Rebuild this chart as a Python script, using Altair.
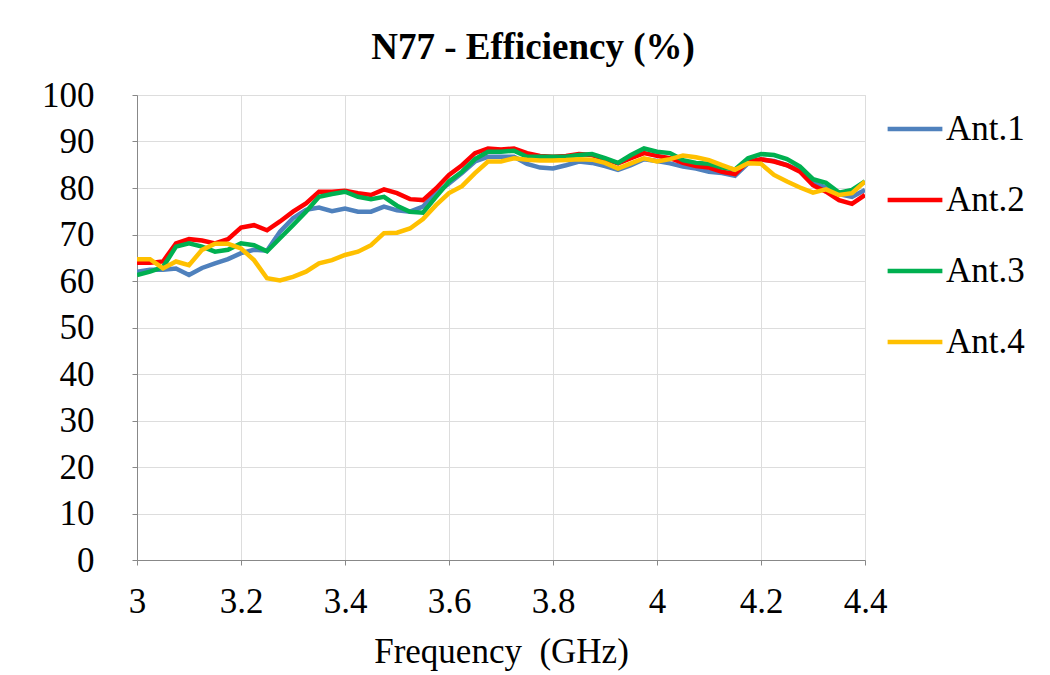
import altair as alt
import pandas as pd

freq = [round(3.0 + 0.025 * i, 3) for i in range(57)]

ant1 = [62.0, 62.4, 62.4, 62.7, 61.3, 62.8, 63.8, 64.7, 66.0, 66.7, 66.5, 70.6, 73.5, 75.3, 75.8,
        75.0, 75.6, 74.9, 74.9, 76.0, 75.2, 74.9, 76.0, 78.9, 81.0, 83.2, 85.7, 86.7, 86.7, 86.7,
        85.2, 84.4, 84.2, 84.9, 85.7, 85.4, 84.7, 83.9, 84.9, 86.2, 85.8, 85.3, 84.6, 84.2, 83.5,
        83.2, 82.6, 85.3, 86.1, 85.8, 84.9, 83.8, 81.1, 80.1, 78.7, 78.1, 79.6]
ant2 = [63.9, 63.9, 64.2, 68.1, 69.0, 68.7, 68.1, 69.0, 71.5, 72.0, 70.9, 72.8, 74.9, 76.7, 79.2,
        79.2, 79.4, 78.9, 78.5, 79.7, 78.9, 77.6, 77.4, 79.9, 82.8, 84.9, 87.5, 88.5, 88.3, 88.5,
        87.5, 86.9, 86.7, 86.9, 87.3, 87.1, 86.2, 85.3, 86.4, 87.5, 86.9, 86.4, 85.4, 84.7, 84.4,
        83.5, 83.0, 85.7, 86.2, 85.7, 84.9, 83.5, 80.6, 79.2, 77.4, 76.6, 78.5]
ant3 = [61.3, 62.0, 63.0, 67.4, 68.1, 67.4, 66.3, 66.7, 68.1, 67.7, 66.4, 69.2, 72.0, 74.9, 78.1,
        78.7, 79.2, 78.1, 77.6, 78.1, 76.2, 74.9, 74.7, 78.1, 81.4, 83.5, 86.2, 87.8, 87.8, 88.0,
        86.7, 86.7, 86.7, 86.7, 87.1, 87.3, 86.4, 85.4, 87.1, 88.5, 87.8, 87.5, 86.0, 85.4, 85.2,
        84.4, 84.0, 86.4, 87.3, 87.1, 86.2, 84.6, 81.9, 81.1, 79.0, 79.6, 81.4]
ant4 = [64.7, 64.7, 62.7, 64.2, 63.4, 66.7, 68.0, 68.0, 67.0, 64.5, 60.6, 60.1, 60.9, 62.0, 63.8,
        64.5, 65.6, 66.3, 67.7, 70.3, 70.4, 71.3, 73.3, 76.3, 78.9, 80.4, 83.2, 85.7, 85.7, 86.4,
        86.1, 85.9, 85.9, 86.0, 86.2, 86.1, 85.4, 84.2, 85.3, 86.4, 85.7, 86.2, 87.0, 86.6, 86.0,
        84.9, 83.9, 85.3, 85.2, 82.8, 81.4, 80.1, 79.0, 79.7, 78.5, 78.9, 81.4]

series_names = ["Ant.1", "Ant.2", "Ant.3", "Ant.4"]
series_colors = ["#4F81BD", "#FF0000", "#00B050", "#FFC000"]
x_ticks = [3.0, 3.2, 3.4, 3.6, 3.8, 4.0, 4.2, 4.4]
y_ticks = list(range(0, 101, 10))

rows = []
for name, vals in zip(series_names, [ant1, ant2, ant3, ant4]):
    for f, v in zip(freq, vals):
        rows.append({"Frequency": f, "Efficiency": v, "Antenna": name})
df = pd.DataFrame(rows)

FONT = "Liberation Serif"
FS = 35

chart = alt.Chart(df).mark_line(strokeWidth=4.5, clip=True).encode(
    x=alt.X("Frequency:Q",
            scale=alt.Scale(domain=[3.0, 4.4], nice=False, zero=False),
            axis=alt.Axis(values=x_ticks, title="Frequency\u00a0\u00a0(GHz)", labelFontSize=FS,
                          titleFontSize=FS, labelPadding=19, titlePadding=15,
                          labelFont=FONT, titleFont=FONT, labelColor="black", titleColor="black",
                          titleFontWeight="normal", labelFlush=False,
                          labelExpr="datum.value == 3 ? '3' : datum.value == 4 ? '4' : format(datum.value, '.1f')")),
    y=alt.Y("Efficiency:Q",
            scale=alt.Scale(domain=[0, 100], nice=False),
            axis=alt.Axis(values=y_ticks, title=None, labelFontSize=FS, labelPadding=38,
                          labelFont=FONT, labelColor="black")),
    color=alt.Color("Antenna:N",
                    scale=alt.Scale(domain=series_names, range=series_colors),
                    legend=alt.Legend(title=None, orient="none", legendX=748, legendY=4,
                                      symbolType="stroke", symbolSize=3000,
                                      symbolStrokeWidth=4.5, labelFontSize=FS,
                                      labelFont=FONT, labelColor="black",
                                      rowPadding=23, labelOffset=1)),
    order=alt.Order("Antenna:N"),
).properties(
    width=728,
    height=465,
    title=alt.TitleParams("N77 - Efficiency (%)", fontSize=37, font=FONT,
                          fontWeight="bold", anchor="middle", offset=11, dx=32, color="black"),
    autosize=alt.AutoSizeParams(type="none"),
    padding={"left": 129, "top": 87, "right": 177, "bottom": 113},
).configure_axis(
    grid=True, gridColor="#D9D9D9", gridWidth=1.5, domain=False, ticks=False,
).configure_view(
    stroke="#D9D9D9", strokeWidth=1.5,
).configure(background="white")

chart.save("out.html", embed_options={"renderer": "svg", "actions": False})
